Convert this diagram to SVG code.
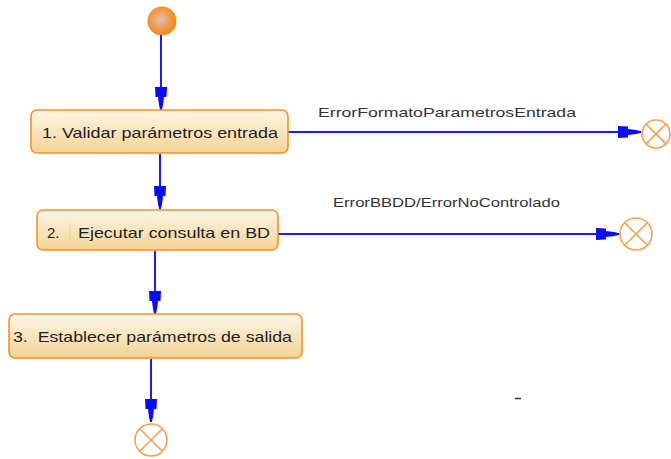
<svg xmlns="http://www.w3.org/2000/svg" width="671" height="459" viewBox="0 0 671 459">
  <style>
    .act { fill: url(#actFill); stroke: #f5902a; stroke-width: 1.6; }
    .lbl { font-family: "Liberation Sans", Arial, sans-serif; font-size: 15px; fill: #1e1e2a; }
    .flow { font-family: "Liberation Sans", Arial, sans-serif; font-size: 13.5px; fill: #333; }
    .edge { stroke: #1a1aff; stroke-width: 2; fill: none; marker-end: url(#arrow); }
    .final { fill: #fff; stroke: #f7a050; stroke-width: 1.6; }
  </style>
  <defs>
    <linearGradient id="actFill" x1="0" y1="0" x2="0" y2="1">
      <stop offset="0" stop-color="#fef6e6"/>
      <stop offset="1" stop-color="#f2d393"/>
    </linearGradient>
    <radialGradient id="startFill" cx="0.45" cy="0.45" r="0.6">
      <stop offset="0" stop-color="#d6c4bb"/>
      <stop offset="0.55" stop-color="#f59a45"/>
      <stop offset="1" stop-color="#f08418"/>
    </radialGradient>
    <!-- block-and-taper arrowhead, tip at the path end -->
    <marker id="arrow" markerUnits="userSpaceOnUse" markerWidth="26" markerHeight="16" viewBox="-24 -8 26 16" refX="0" refY="0" orient="auto">
      <polygon points="-23,-6 -13,-5.5 -13,-3 -5,-2 0,-0.8 0,0.8 -5,2 -13,3 -13,5.5 -23,6" fill="#0a0aff"/>
    </marker>
  </defs>

  <!-- start node -->
  <g id="start">
    <circle cx="162" cy="21" r="14.5" fill="url(#startFill)"/>
  </g>

  <!-- connectors -->
  <g id="connectors">
    <path class="edge" d="M161,35 V110"/>
    <path class="edge" d="M160,154 V209"/>
    <path class="edge" d="M155,251 V314"/>
    <path class="edge" d="M151,359 V422"/>
    <path class="edge" d="M288,132 H641"/>
    <path class="edge" d="M278,234 H619"/>
    <text class="flow" x="318" y="117" textLength="258" lengthAdjust="spacingAndGlyphs">ErrorFormatoParametrosEntrada</text>
    <text class="flow" x="333" y="207" textLength="227" lengthAdjust="spacingAndGlyphs">ErrorBBDD/ErrorNoControlado</text>
  </g>

  <!-- activity 1 -->
  <g id="act1">
    <rect class="act" x="31" y="110" width="257" height="43" rx="6"/>
    <text class="lbl" x="42" y="138" textLength="236" lengthAdjust="spacingAndGlyphs">1. Validar parámetros entrada</text>
  </g>

  <!-- activity 2 -->
  <g id="act2">
    <rect class="act" x="37" y="210" width="241" height="40" rx="6"/>
    <text class="lbl" x="47" y="238">2.</text>
    <line x1="70" y1="223" x2="70" y2="239" stroke="#e8cfa8" stroke-width="1"/>
    <text class="lbl" x="78" y="238" textLength="192" lengthAdjust="spacingAndGlyphs">Ejecutar consulta en BD</text>
  </g>

  <!-- activity 3 -->
  <g id="act3">
    <rect class="act" x="9" y="314" width="293" height="44" rx="6"/>
    <text class="lbl" x="13" y="342" xml:space="preserve" textLength="279" lengthAdjust="spacingAndGlyphs">3.  Establecer parámetros de salida</text>
  </g>

  <!-- final nodes -->
  <g id="end1">
    <circle class="final" cx="656" cy="134" r="14"/>
    <path d="M646.1,124.1 L665.9,143.9 M665.9,124.1 L646.1,143.9" stroke="#f7a050" stroke-width="1.6"/>
  </g>
  <g id="end2">
    <circle class="final" cx="636" cy="234" r="16"/>
    <path d="M624.7,222.7 L647.3,245.3 M647.3,222.7 L624.7,245.3" stroke="#f7a050" stroke-width="1.6"/>
  </g>
  <g id="end3">
    <circle class="final" cx="151" cy="440" r="16"/>
    <path d="M139.7,428.7 L162.3,451.3 M162.3,428.7 L139.7,451.3" stroke="#f7a050" stroke-width="1.6"/>
  </g>

  <!-- stray mark -->
  <line x1="515" y1="398.5" x2="521" y2="398.5" stroke="#333" stroke-width="1.5"/>
</svg>
